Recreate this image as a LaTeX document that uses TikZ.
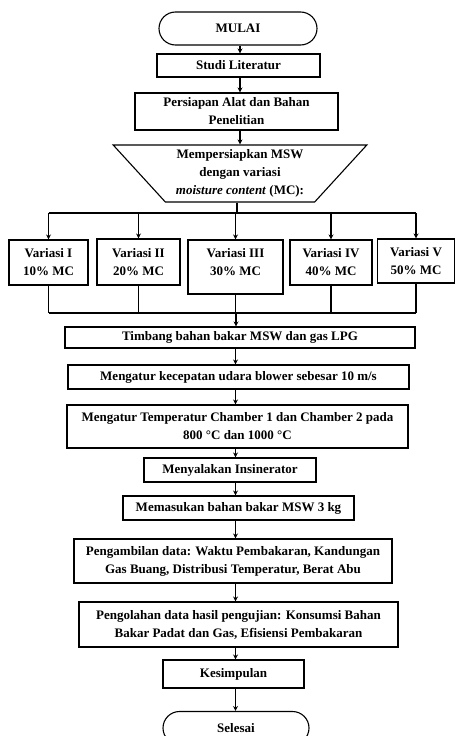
\documentclass[tikz,border=0pt]{standalone}
\usepackage{fontspec}
\setmainfont{Liberation Serif}
\usetikzlibrary{shapes.geometric,shapes.misc,arrows.meta}

\begin{document}
\begin{tikzpicture}[x=1pt,y=-1pt,
    font=\fontsize{13}{18}\selectfont\bfseries,
    line width=1.1pt,
    box/.style={draw,rectangle,align=center,inner sep=1pt},
    term/.style={draw,rounded rectangle,minimum width=160,minimum height=33,inner sep=1pt},
    arr/.style={-{Stealth[length=5pt,width=5pt]}}]
    \useasboundingbox (0,0) rectangle (455,736);
    \coordinate (axis) at (240,0);
    \coordinate (spine) at (235.5,0);

    \node[term] (mulai) at (238,28.5) {MULAI};
    \node[box,minimum width=163,minimum height=23] (studi) at (238.5,65.5) {Studi Literatur};
    \node[box,minimum width=203,minimum height=37] (persiapan) at (236.5,111.5) {Persiapan Alat dan Bahan\\Penelitian};
    \node[draw,trapezium,shape border rotate=180,trapezium stretches=true,
          trapezium left angle=47.6,trapezium right angle=47.6,
          minimum width=254,minimum height=57,align=center,inner sep=1pt] (msw) at (240,173.5)
          {Mempersiapkan MSW\\dengan variasi\\\textit{moisture content} (MC):};

    \coordinate (split) at (237,213);
    \coordinate (join) at (236,313);

    % variasi moisture content
    \foreach \name/\x/\y/\w/\h/\d/\pct in {I/48.5/262.5/79/45/1/10, II/138.5/262/83/46/1/20,
        III/235.5/267/95/54/10/30, IV/331/262.5/82/45/1/40, V/416/261/77/44/1/50} {
        \node[box,minimum width=\w,minimum height=\h,text depth=\d pt] (var\name) at (\x,\y)
            {Variasi \name\\\pct\% MC};
        \draw[arr] (split -| var\name) -- (var\name);
        \draw (var\name) -- (join -| var\name);
    }
    \draw (msw.south -| split) -- (split);
    \draw (split -| varI) -- (split -| varV);
    \draw (join -| varI) -- (join -| varV);

    \node[box,minimum width=350,minimum height=21] (timbang) at (240,337.5) {Timbang bahan bakar MSW dan gas LPG};
    \node[box,minimum width=341,minimum height=24] (blower) at (238.5,377) {Mengatur kecepatan udara blower sebesar 10 m/s};
    \node[box,minimum width=341,minimum height=43] (suhu) at (237.5,426.5) {Mengatur Temperatur Chamber 1 dan Chamber 2 pada\\800 °C dan 1000 °C};
    \node[box,minimum width=172,minimum height=24] (nyala) at (230,470) {Menyalakan Insinerator};
    \node[box,minimum width=231,minimum height=24] (masuk) at (238.5,508) {Memasukan bahan bakar MSW 3 kg};
    \node[box,minimum width=318,minimum height=44] (ambil) at (233,561) {Pengambilan data: Waktu Pembakaran, Kandungan\\Gas Buang, Distribusi Temperatur, Berat Abu};
    \node[box,minimum width=319,minimum height=45] (olah) at (238.5,624.5) {Pengolahan data hasil pengujian: Konsumsi Bahan\\Bakar Padat dan Gas, Efisiensi Pembakaran};
    \node[box,minimum width=141,minimum height=28] (simpul) at (233.5,674) {Kesimpulan};
    \node[term,minimum width=148] (selesai) at (236,728) {Selesai};

    % alur utama
    \draw[arr] (mulai.south -| axis) -- (studi.north -| axis);
    \draw[arr] (studi.south -| axis) -- (persiapan.north -| axis);
    \draw[arr] (persiapan.south -| axis) -- (msw.north -| axis);
    \draw[arr] (join) -- (timbang.north -| join);
    \draw[arr] (timbang.south -| spine) -- (blower.north -| spine);
    \draw[arr] (blower.south -| spine) -- (suhu.north -| spine);
    \draw[arr] (suhu.south -| spine) -- (nyala.north -| spine);
    \draw[arr] (nyala.south -| spine) -- (masuk.north -| spine);
    \draw[arr] (masuk.south -| spine) -- (ambil.north -| spine);
    \draw[arr] (ambil.south -| spine) -- (olah.north -| spine);
    \draw[arr] (olah.south -| spine) -- (simpul.north -| spine);
    \draw[arr] (simpul.south -| spine) -- (selesai.north -| spine);
\end{tikzpicture}
\end{document}
